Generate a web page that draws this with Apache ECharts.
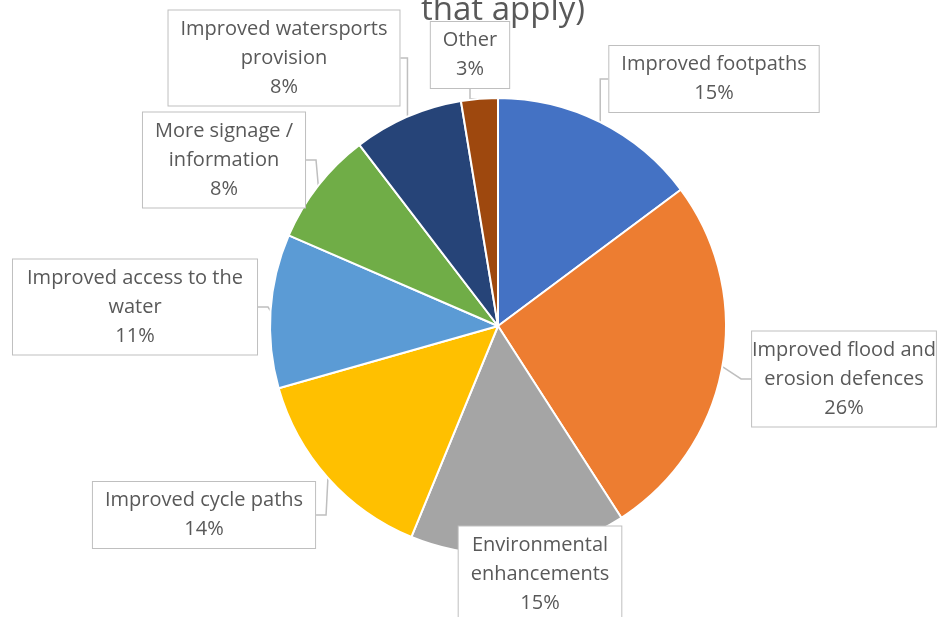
<!DOCTYPE html>
<html>
<head>
<meta charset="utf-8">
<script src="https://cdn.jsdelivr.net/npm/echarts@6/dist/echarts.min.js"></script>
<style>
  html, body { margin: 0; padding: 0; background: #fff; }
  #chart { width: 941px; height: 617px; }
</style>
</head>
<body>
<div id="chart"></div>
<script>
// slice names (line breaks as in the callouts) and shares, clockwise from 12 o'clock
var categories = [
  'Improved footpaths',
  'Improved flood and\nerosion defences',
  'Environmental\nenhancements',
  'Improved cycle paths',
  'Improved access to the\nwater',
  'More signage /\ninformation',
  'Improved watersports\nprovision',
  'Other'
];
var shares = [14.8, 26.1, 15.3, 14.4, 10.9, 8.1, 7.8, 2.6];
var colors = ['#4472C4', '#ED7D31', '#A5A5A5', '#FFC000', '#5B9BD5', '#70AD47', '#264478', '#9E480E'];

// callout box centres
var boxPos = [
  [714, 79], [844, 379], [540, 574], [204, 515],
  [135, 307], [224, 160], [284, 58], [470, 55]
];

var chart = echarts.init(document.getElementById('chart'));

var option = {
  backgroundColor: '#fff',
  animation: false,
  title: {
    text: 'that apply)',
    left: 498,
    textAlign: 'center',
    top: -11,
    textStyle: { color: '#595959', fontSize: 33, fontWeight: 'normal', fontFamily: 'Open Sans' }
  },
  series: [{
    type: 'pie',
    center: [498, 326],
    radius: 228,
    startAngle: 90,
    clockwise: true,
    itemStyle: { borderColor: '#fff', borderWidth: 2 },
    label: {
      show: true,
      formatter: function (p) {
        return p.name + '\n' + Math.round(p.percent) + '%';
      },
      color: '#595959',
      fontSize: 20,
      lineHeight: 29,
      fontFamily: 'Open Sans',
      align: 'center',
      overflow: 'none',
      backgroundColor: '#fff',
      borderColor: '#BFBFBF',
      borderWidth: 1,
      padding: [4, 12, 4, 12]
    },
    labelLine: {
      show: true,
      length: 10,
      length2: 10,
      lineStyle: { color: '#BFBFBF', width: 1.5 }
    },
    labelLayout: function (params) {
      var p = boxPos[params.dataIndex];
      return { x: p[0], y: p[1], align: 'center', verticalAlign: 'middle' };
    },
    data: categories.map(function (n, i) {
      return { name: n, value: shares[i], itemStyle: { color: colors[i] } };
    })
  }]
};

chart.setOption(option);
</script>
</body>
</html>
